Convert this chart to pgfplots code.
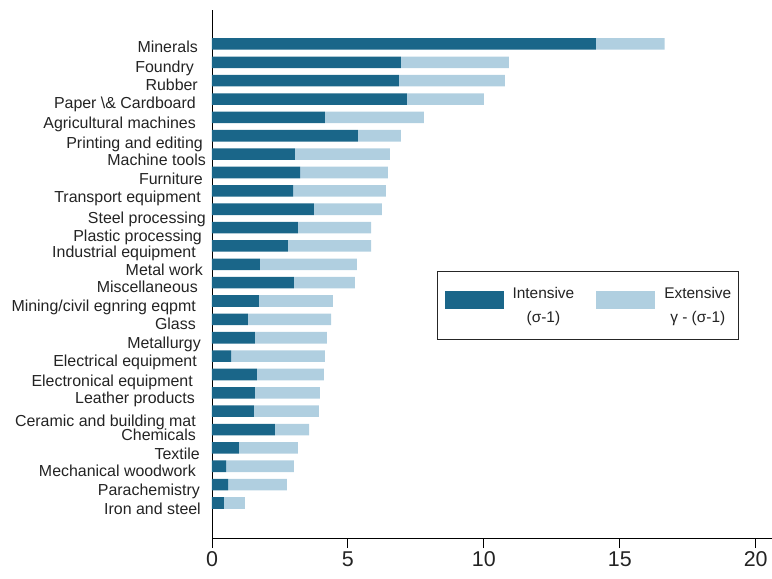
\documentclass[border=0pt]{standalone}
\usepackage{fontspec}
\setmainfont{Liberation Sans}
\usepackage{pgfplots}
\usepackage{pgfplotstable}
\pgfplotsset{compat=1.18}
\definecolor{darkb}{RGB}{26,102,137}
\definecolor{lightb}{RGB}{176,207,224}
\definecolor{txt}{RGB}{35,35,35}
\pgfplotstableread{
idx int ext
26 14.12 2.53
25 6.95 3.97
24 6.87 3.90
23 7.17 2.83
22 4.15 3.64
21 5.37 1.58
20 3.05 3.49
19 3.24 3.23
18 2.98 3.42
17 3.75 2.50
16 3.16 2.69
15 2.79 3.06
14 1.76 3.57
13 3.01 2.25
12 1.72 2.73
11 1.32 3.06
10 1.58 2.65
9 0.70 3.45
8 1.65 2.47
7 1.58 2.39
6 1.54 2.39
5 2.31 1.26
4 0.99 2.17
3 0.52 2.49
2 0.59 2.16
1 0.44 0.77
}\data
\begin{document}
\begin{tikzpicture}
\begin{axis}[
  scale only axis, width=560bp, height=528bp,
  xbar stacked, bar width=0.63,
  xmin=0, xmax=20.6, ymin=-0.906, ymax=27.85,
  axis lines=left,
  axis line style={-, line width=0.9pt, black},
  xtick={0,5,10,15,20},
  tick align=outside,
  major tick length=10bp,
  xtick style={line width=0.9pt, black},
  ytick style={draw=none},
  minor tick num=0,
  /pgf/number format/assume math mode=true,
  xticklabel style={font=\fontsize{21.5}{21.5}\selectfont, text=txt},
  ytick={0.59,1.63,2.66,3.59,4.62,5.38,6.64,7.56,8.65,9.63,10.67,11.65,12.68,13.61,14.59,15.46,16.44,17.58,18.57,19.60,20.53,21.62,22.70,23.68,24.67,25.75},
  yticklabels={
    {Iron and steel\kern5bp},
    {Parachemistry\kern6bp},
    {Mechanical woodwork\kern10bp},
    {Textile\kern6bp},
    {Chemicals\kern10bp},
    {Ceramic and building mat\kern10bp},
    {Leather products\kern11bp},
    {Electronical equipment\kern13bp},
    {Electrical equipment\kern9bp},
    {Metallurgy\kern5bp},
    {Glass\kern10bp},
    {Mining/civil egnring eqpmt\kern10bp},
    {Miscellaneous\kern8bp},
    {Metal work\kern3bp},
    {Industrial equipment\kern10bp},
    {Plastic processing\kern4bp},
    {Steel processing\kern0bp},
    {Transport equipment\kern5bp},
    {Furniture\kern3bp},
    {Machine tools\kern0bp},
    {Printing and editing\kern3bp},
    {Agricultural machines\kern10bp},
    {Paper \textbackslash\& Cardboard\kern10bp},
    {Rubber\kern8bp},
    {Foundry\kern12bp},
    {Minerals\kern8bp}},
  yticklabel style={font=\fontsize{16}{16}\selectfont, text=txt, text height=11bp, text depth=3bp, inner sep=0pt, anchor=east, xshift=4bp},
  legend columns=2,
  legend image code/.code={\fill[#1] (0bp,-3bp) rectangle (59bp,15bp);},
  legend style={at={(rel axis cs:0.4018,0.5057)}, anchor=north west,
    draw=black!85, line width=1pt, inner xsep=7bp, inner ysep=15.5bp,
    font=\fontsize{15.5}{24.5}\selectfont, text=txt,
    nodes={inner sep=0pt}, cells={align=center},
    column sep=9bp,
    /tikz/every even column/.append style={column sep=22bp}},
]
\addplot[fill=darkb, draw=none] table[x=int, y=idx] {\data};
\addlegendentry{Intensive\\(σ-1)}
\addplot[fill=lightb, draw=none] table[x=ext, y=idx] {\data};
\addlegendentry{Extensive\\γ - (σ-1)}
\end{axis}
\pgfresetboundingbox
\path[use as bounding box] (current axis.south west) ++(-212bp,-41bp) rectangle ++(772bp,579bp);
\end{tikzpicture}
\end{document}
